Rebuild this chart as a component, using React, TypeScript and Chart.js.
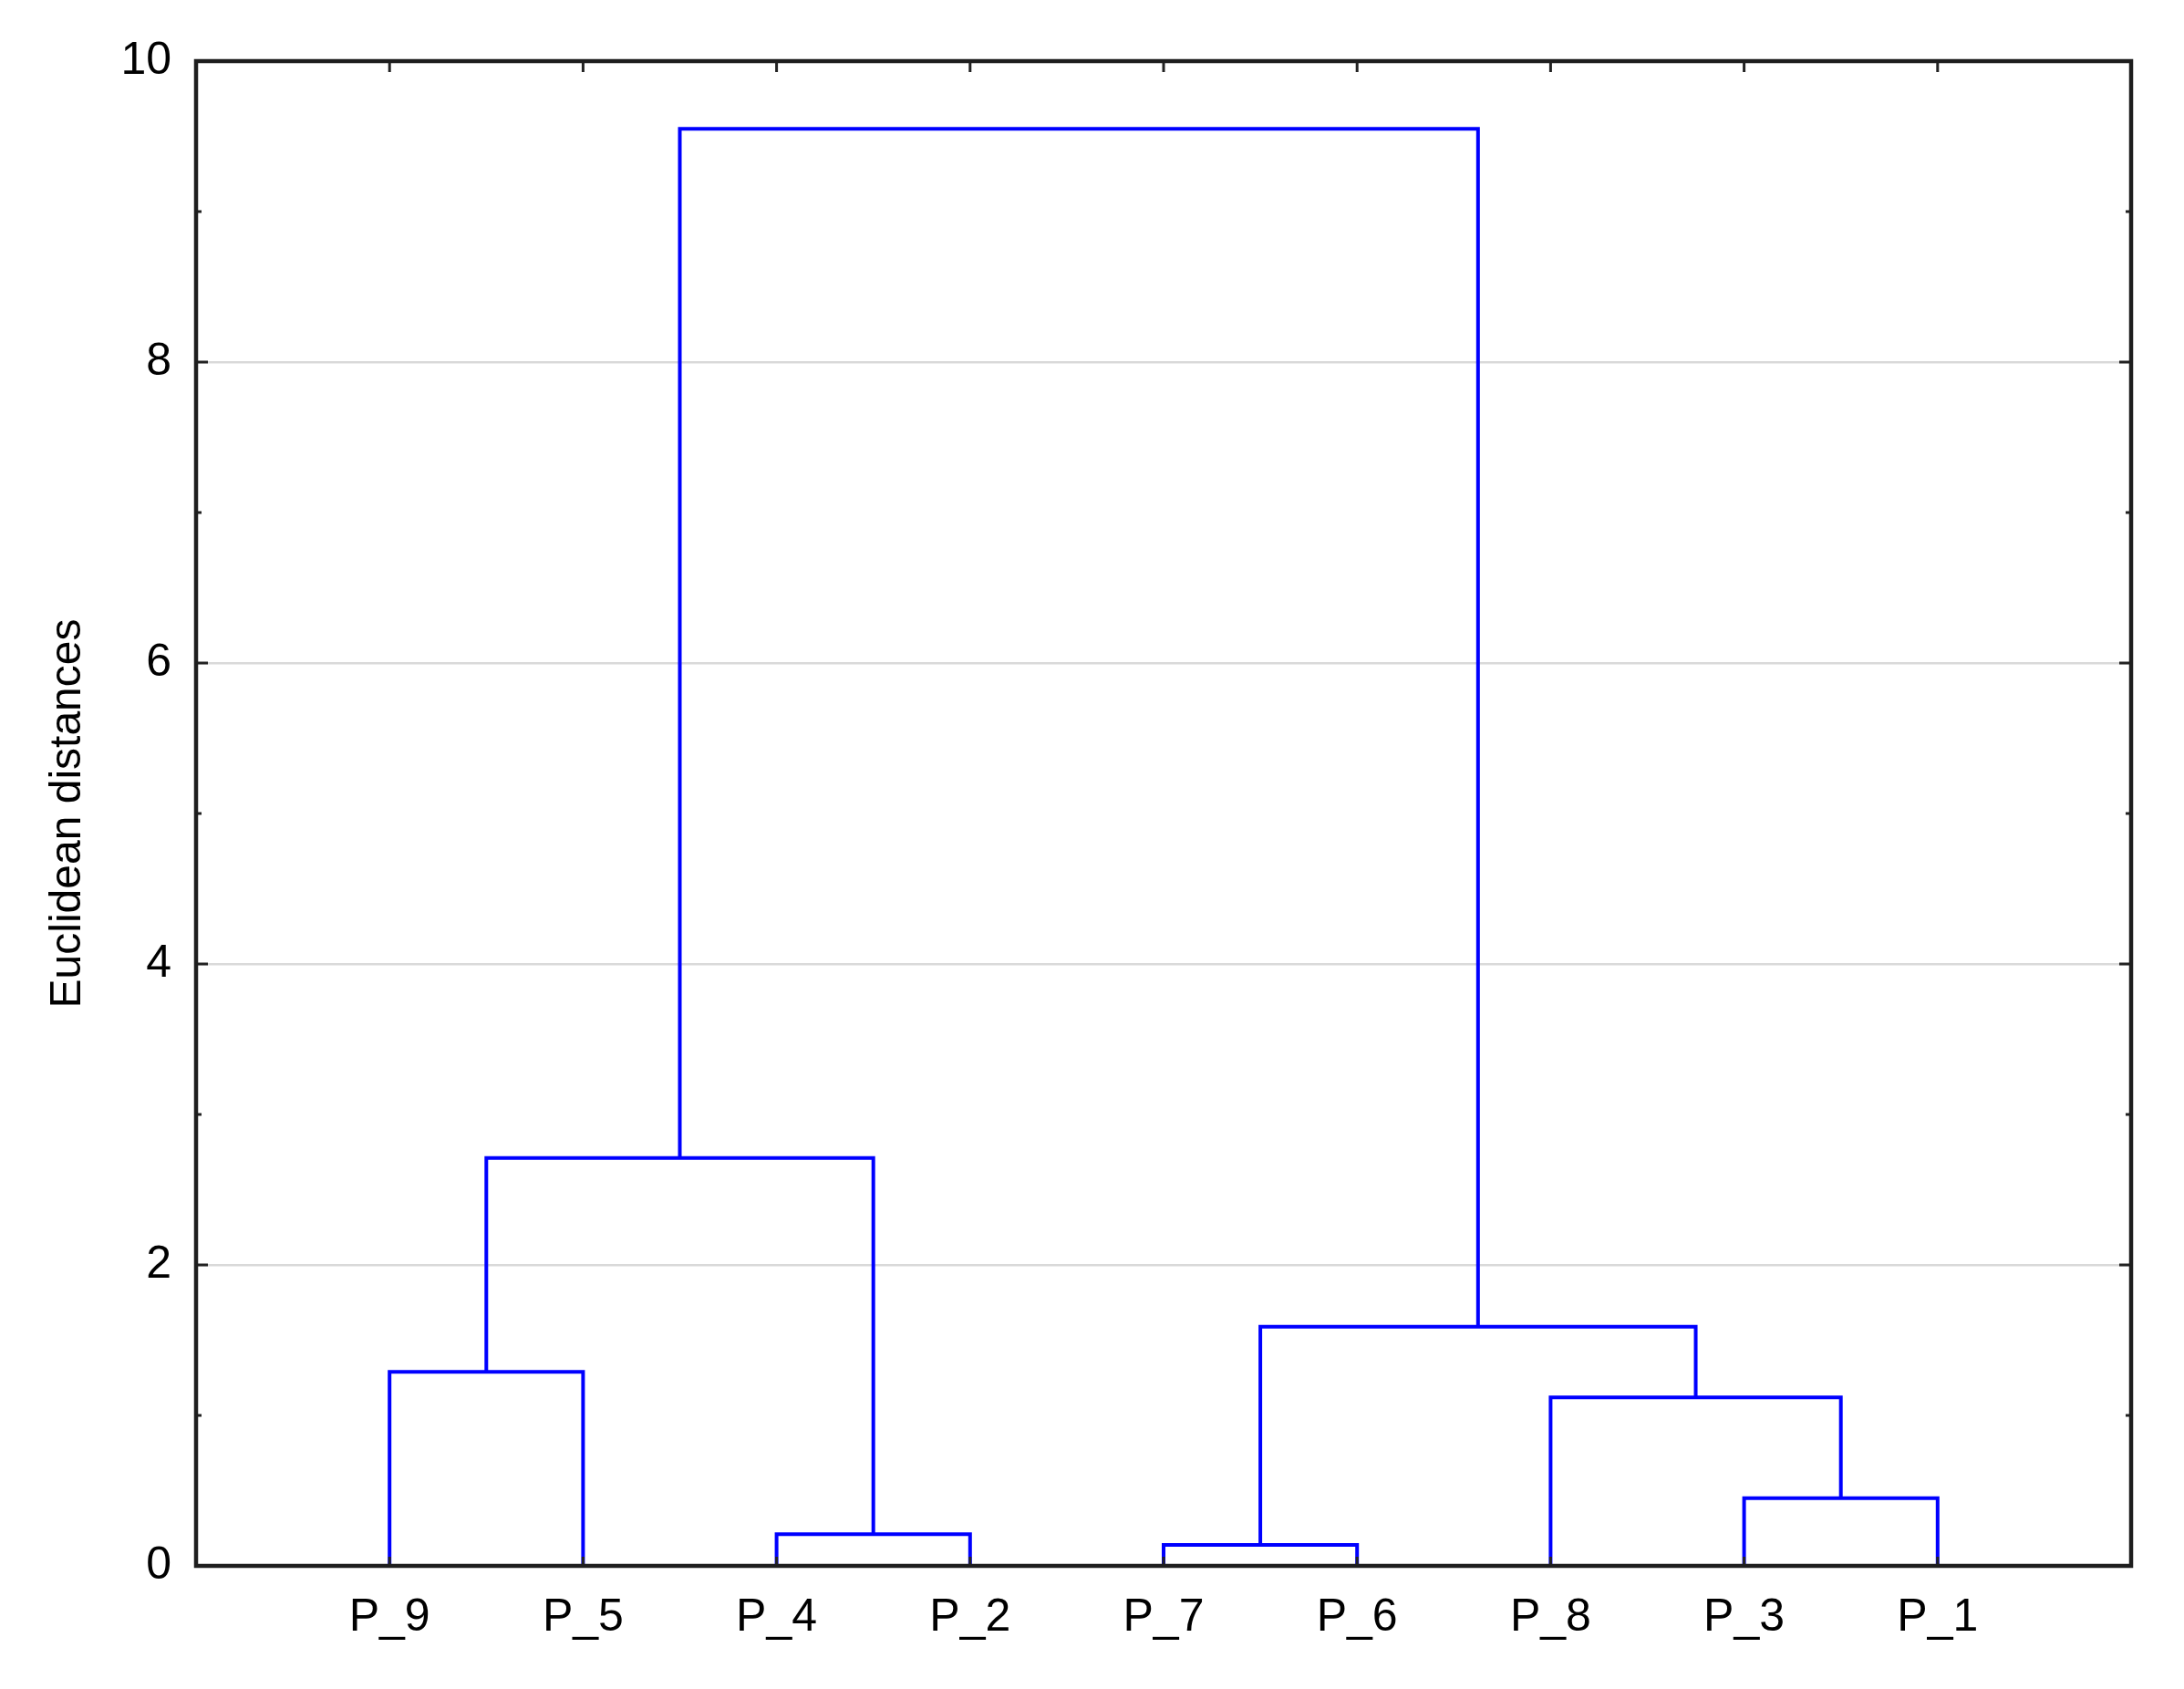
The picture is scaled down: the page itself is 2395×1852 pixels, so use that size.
import React, { useEffect, useRef } from "react";
import { Chart, registerables } from "chart.js";

Chart.register(...registerables);

// ---- Data ----
const leafLabels = ["P_9", "P_5", "P_4", "P_2", "P_7", "P_6", "P_8", "P_3", "P_1"];
// Nodes 0..8 are leaves (in display order); merge k creates node 9 + k
const mergeLeft = [4, 2, 7, 6, 0, 9, 13, 15];
const mergeRight = [5, 3, 8, 11, 1, 12, 10, 14];
const mergeHeight = [0.14, 0.21, 0.45, 1.12, 1.29, 1.59, 2.71, 9.55];
const yTickValues = [0, 2, 4, 6, 8, 10];
const yMinorTickValues = [1, 3, 5, 7, 9];
const yAxisTitle = "Euclidean distances";

const W = 2395;
const H = 1852;
const FONT = "'Liberation Sans', Arial, 'DejaVu Sans', sans-serif";
const BLUE = "#0000ff";

function buildDatasets() {
  const nodeX: number[] = leafLabels.map((_, i) => i + 1);
  const nodeY: number[] = leafLabels.map(() => 0);
  const datasets: any[] = [];
  mergeHeight.forEach((h, k) => {
    const l = mergeLeft[k];
    const r = mergeRight[k];
    datasets.push({
      data: [
        { x: nodeX[l], y: nodeY[l] },
        { x: nodeX[l], y: h },
        { x: nodeX[r], y: h },
        { x: nodeX[r], y: nodeY[r] },
      ],
      showLine: true,
      borderColor: BLUE,
      borderWidth: 4,
      pointRadius: 0,
      fill: false,
      tension: 0,
      borderJoinStyle: "miter",
    });
    nodeX.push((nodeX[l] + nodeX[r]) / 2);
    nodeY.push(h);
  });
  return datasets;
}

const framePlugin = {
  id: "frame",
  afterDraw(chart: any) {
    const { ctx, chartArea } = chart;
    const xs = chart.scales.x;
    const ys = chart.scales.y;
    const { left, right, top, bottom } = chartArea;
    ctx.save();
    ctx.strokeStyle = "#222";
    ctx.lineWidth = 3;
    ctx.beginPath();
    yTickValues.forEach((v) => {
      const py = ys.getPixelForValue(v);
      ctx.moveTo(left, py);
      ctx.lineTo(left + 13, py);
      ctx.moveTo(right, py);
      ctx.lineTo(right - 13, py);
    });
    yMinorTickValues.forEach((v) => {
      const py = ys.getPixelForValue(v);
      ctx.moveTo(left, py);
      ctx.lineTo(left + 6, py);
      ctx.moveTo(right, py);
      ctx.lineTo(right - 6, py);
    });
    leafLabels.forEach((_, i) => {
      const px = xs.getPixelForValue(i + 1);
      ctx.moveTo(px, top);
      ctx.lineTo(px, top + 12);
      ctx.moveTo(px, bottom);
      ctx.lineTo(px, bottom - 10);
    });
    ctx.stroke();
    ctx.lineWidth = 4.5;
    ctx.strokeStyle = "#1e1e1e";
    ctx.strokeRect(left, top, right - left, bottom - top);
    ctx.restore();
  },
};

export default function App() {
  const canvasRef = useRef<HTMLCanvasElement | null>(null);

  useEffect(() => {
    if (!canvasRef.current) return;
    const chart = new Chart(canvasRef.current, {
      type: "scatter",
      data: { datasets: buildDatasets() },
      options: {
        responsive: false,
        animation: false,
        devicePixelRatio: 1,
        layout: { padding: { top: 67, right: 58, bottom: 0, left: 0 } },
        plugins: {
          legend: { display: false },
          tooltip: { enabled: false },
        },
        scales: {
          x: {
            type: "linear",
            min: 0,
            max: 10,
            afterBuildTicks: (scale: any) => {
              scale.ticks = leafLabels.map((_, i) => ({ value: i + 1 }));
            },
            afterFit: (scale: any) => {
              scale.height = H - 1717;
            },
            grid: { display: false, drawTicks: false },
            border: { display: false },
            ticks: {
              autoSkip: false,
              maxRotation: 0,
              padding: 27,
              color: "#000",
              font: { family: FONT, size: 50 },
              callback: (v: any) => leafLabels[Number(v) - 1] ?? "",
            },
          },
          y: {
            type: "linear",
            min: 0,
            max: 10,
            afterBuildTicks: (scale: any) => {
              scale.ticks = yTickValues.map((v) => ({ value: v }));
            },
            afterFit: (scale: any) => {
              scale.width = 215;
            },
            grid: {
              drawTicks: false,
              lineWidth: 2.5,
              color: (c: any) =>
                c.tick && (c.tick.value === 0 || c.tick.value === 10)
                  ? "rgba(0,0,0,0)"
                  : "#d9d9d9",
            },
            border: { display: false },
            ticks: {
              padding: 27,
              color: "#000",
              font: { family: FONT, size: 50 },
              callback: (v: any) => String(v),
            },
            title: {
              display: true,
              text: yAxisTitle,
              color: "#000",
              font: { family: FONT, size: 48 },
              padding: { top: 46, bottom: 0 },
            },
          },
        },
      },
      plugins: [framePlugin],
    });
    return () => chart.destroy();
  }, []);

  return (
    <div style={{ position: "absolute", left: 0, top: 0, width: W, height: H, background: "#fff" }}>
      <canvas ref={canvasRef} width={W} height={H} style={{ width: W, height: H, display: "block" }} />
    </div>
  );
}
